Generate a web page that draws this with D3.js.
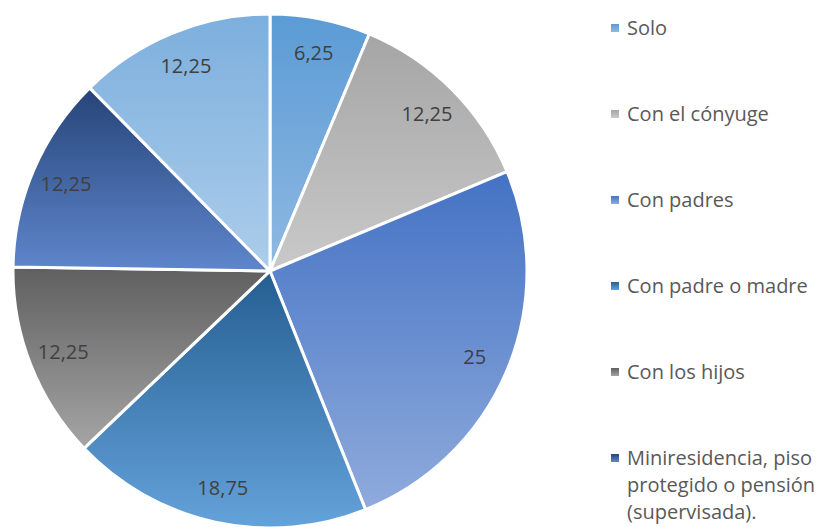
<!DOCTYPE html>
<html>
<head>
<meta charset="utf-8">
<script src="https://cdn.jsdelivr.net/npm/d3@7"></script>
<style>
  body { margin: 0; background: #fff; }
  svg { display: block; font-family: "Open Sans", sans-serif; }
</style>
</head>
<body>
<div id="chart"></div>
<script>
// data (7th legend entry is cut off in the original)
var categories = ["Solo", "Con el cónyuge", "Con padres", "Con padre o madre",
                  "Con los hijos", "Miniresidencia, piso protegido o pensión (supervisada).", "Residencia"];
var values = [6.25, 12.25, 25, 18.75, 12.25, 12.25, 12.25];
var labels = ["6,25", "12,25", "25", "18,75", "12,25", "12,25", "12,25"];
var legendLines = [["Solo"], ["Con el cónyuge"], ["Con padres"], ["Con padre o madre"],
                   ["Con los hijos"], ["Miniresidencia, piso", "protegido o pensión", "(supervisada)."]];
// gradient top / bottom colours
var topColors = ["#5b9bd5", "#a5a5a5", "#4472c4", "#255e91", "#5f5f5f", "#264478", "#7cafdd"];
var bottomColors = ["#8fb9e2", "#c9c9c9", "#8fabdc", "#64a2da", "#a5a5a5", "#5f86cc", "#adcdeb"];

var width = 827, height = 527;
var cx = 270, cy = 271, radius = 257;

var svg = d3.select("#chart").append("svg")
    .attr("width", width).attr("height", height);

var defs = svg.append("defs");
categories.forEach(function(c, i) {
    var g = defs.append("linearGradient").attr("id", "grad" + i)
        .attr("x1", 0).attr("y1", 0).attr("x2", 0).attr("y2", 1);
    g.append("stop").attr("offset", "0%").attr("stop-color", topColors[i]);
    g.append("stop").attr("offset", "100%").attr("stop-color", bottomColors[i]);
});

var pie = d3.pie().sort(null).value(function(d) { return d; });
var arcs = pie(values);
var arc = d3.arc().innerRadius(0).outerRadius(radius);
var labelArc = d3.arc().innerRadius(222).outerRadius(222);

var g = svg.append("g").attr("transform", "translate(" + cx + "," + cy + ")");

g.selectAll("path.slice").data(arcs).enter().append("path")
    .attr("class", "slice")
    .attr("d", arc)
    .attr("fill", function(d, i) { return "url(#grad" + i + ")"; })
    .attr("stroke", "#fff")
    .attr("stroke-width", 3)
    .attr("stroke-linejoin", "round");

g.selectAll("text.lbl").data(arcs).enter().append("text")
    .attr("class", "lbl")
    .attr("transform", function(d) { return "translate(" + labelArc.centroid(d) + ")"; })
    .attr("text-anchor", "middle")
    .attr("dy", "0.35em")
    .attr("fill", "#404040")
    .style("font-size", "20px")
    .text(function(d, i) { return labels[i]; });

// legend (only the six entries visible in the reference)
var legendY = d3.scaleLinear().domain([0, 1]).range([28, 114]);
var legend = svg.append("g");
var items = legend.selectAll("g").data(legendLines).enter().append("g")
    .attr("transform", function(d, i) { return "translate(611," + legendY(i) + ")"; });
items.append("rect")
    .attr("x", 0).attr("y", -4).attr("width", 8).attr("height", 8)
    .attr("fill", function(d, i) { return "url(#grad" + i + ")"; });
items.append("text")
    .attr("x", 16)
    .attr("fill", "#595959")
    .style("font-size", "20px")
    .each(function(d, i) {
        var t = d3.select(this);
        d.forEach(function(line, j) {
            t.append("tspan").attr("x", 16).attr("y", j * 27).attr("dy", "0.35em").text(line);
        });
    });
</script>
</body>
</html>
